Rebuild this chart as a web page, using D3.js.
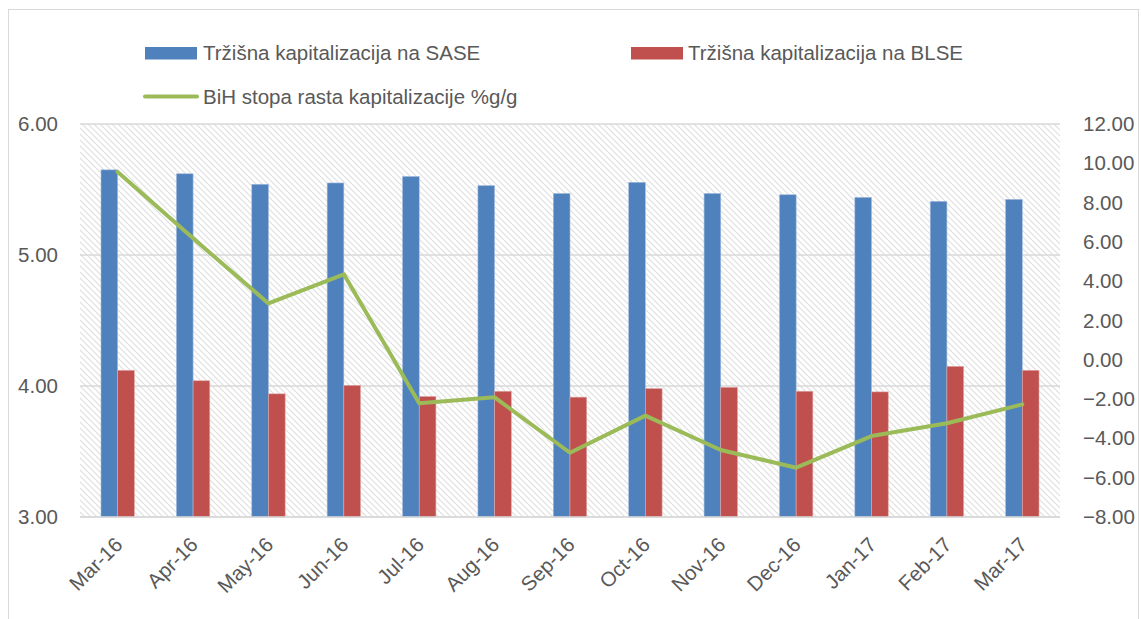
<!DOCTYPE html>
<html>
<head>
<meta charset="utf-8">
<script src="https://cdn.jsdelivr.net/npm/d3@7"></script>
<style>
  html, body { margin: 0; padding: 0; background: #fff; }
  svg { display: block; }
  text { font-family: "Liberation Sans", Arial, sans-serif; }
</style>
</head>
<body>
<svg id="chart" width="1141" height="619"></svg>
<script>
const categories = ["Mar-16","Apr-16","May-16","Jun-16","Jul-16","Aug-16","Sep-16","Oct-16","Nov-16","Dec-16","Jan-17","Feb-17","Mar-17"];
const saseValues = [5.65, 5.62, 5.54, 5.55, 5.60, 5.53, 5.47, 5.555, 5.47, 5.46, 5.44, 5.41, 5.425];
const blseValues = [4.12, 4.04, 3.94, 4.005, 3.92, 3.96, 3.915, 3.98, 3.99, 3.96, 3.955, 4.15, 4.12];
const growthValues = [9.56, 6.18, 2.87, 4.35, -2.21, -1.91, -4.73, -2.84, -4.59, -5.49, -3.88, -3.23, -2.27];
const leftTicks = [3, 4, 5, 6];
const rightTicks = [-8, -6, -4, -2, 0, 2, 4, 6, 8, 10, 12];
const seriesNames = ["Tržišna kapitalizacija na SASE", "Tržišna kapitalizacija na BLSE", "BiH stopa rasta kapitalizacije %g/g"];

const svg = d3.select("#chart");
const plot = { left: 80, right: 1060, top: 124, bottom: 517 };
const textColor = "#595959";
const fontSize = 20.5;

// Outer chart border
svg.append("rect").attr("x", 8.5).attr("y", 9.5).attr("width", 1130).attr("height", 700)
  .attr("fill", "#fff").attr("stroke", "#d9d9d9").attr("stroke-width", 1);

// Hatch pattern
const defs = svg.append("defs");
const pat = defs.append("pattern").attr("id", "hatch").attr("patternUnits", "userSpaceOnUse")
  .attr("width", 6).attr("height", 6);
pat.append("path").attr("d", "M-1,-1 L7,7 M-1,5 L1,7 M5,-1 L7,1")
  .attr("stroke", "#dedede").attr("stroke-width", 1.1).attr("fill", "none");

svg.append("rect").attr("x", plot.left).attr("y", plot.top)
  .attr("width", plot.right - plot.left).attr("height", plot.bottom - plot.top)
  .attr("fill", "url(#hatch)");

// Scales
const x0 = d3.scaleBand().domain(categories).range([plot.left, plot.right])
  .paddingInner(0.557).paddingOuter(0.2785);
const x1 = d3.scaleBand().domain(["sase", "blse"]).range([0, x0.bandwidth()]);
const yL = d3.scaleLinear().domain([3, 6]).range([plot.bottom, plot.top]);
const yR = d3.scaleLinear().domain([-8, 12]).range([plot.bottom, plot.top]);

// Gridlines
svg.append("g").selectAll("line").data(leftTicks).join("line")
  .attr("x1", plot.left).attr("x2", plot.right)
  .attr("y1", d => yL(d)).attr("y2", d => yL(d))
  .attr("stroke", "#d9d9d9").attr("stroke-width", 1.5);

// Bars
const colors = { sase: "#4F81BD", blse: "#C0504D" };
const groups = svg.append("g").selectAll("g").data(categories).join("g")
  .attr("transform", d => `translate(${x0(d)},0)`);
groups.append("rect").attr("x", x1("sase")).attr("width", x1.bandwidth())
  .attr("y", (d, i) => yL(saseValues[i])).attr("height", (d, i) => yL(3) - yL(saseValues[i]))
  .attr("fill", colors.sase).attr("stroke", "#a7bfdf").attr("stroke-width", 0.6);
groups.append("rect").attr("x", x1("blse")).attr("width", x1.bandwidth())
  .attr("y", (d, i) => yL(blseValues[i])).attr("height", (d, i) => yL(3) - yL(blseValues[i]))
  .attr("fill", colors.blse).attr("stroke", "#e0a8a6").attr("stroke-width", 0.6);

// Bottom axis line
svg.append("line").attr("x1", plot.left).attr("x2", plot.right)
  .attr("y1", yL(3)).attr("y2", yL(3)).attr("stroke", "#d9d9d9").attr("stroke-width", 1.5);

// Growth line
const line = d3.line().x((d, i) => x0(categories[i]) + x0.bandwidth() / 2).y(d => yR(d));
svg.append("path").datum(growthValues).attr("d", line)
  .attr("fill", "none").attr("stroke", "#9BBB59").attr("stroke-width", 4)
  .attr("stroke-linejoin", "round").attr("stroke-linecap", "round");

// Left axis labels
const leftAxis = d3.axisLeft(yL).tickValues(leftTicks).tickFormat(d3.format(".2f")).tickSize(0).tickPadding(0);
const gL = svg.append("g").attr("transform", "translate(58,0)").call(leftAxis);
gL.select(".domain").remove();
gL.selectAll("text").attr("font-size", fontSize).attr("fill", textColor)
  .attr("font-family", "Liberation Sans, Arial, sans-serif");

// Right axis labels
const rightAxis = d3.axisRight(yR).tickValues(rightTicks).tickFormat(d3.format(".2f")).tickSize(0).tickPadding(0);
const gR = svg.append("g").attr("transform", "translate(1083,0)").call(rightAxis);
gR.select(".domain").remove();
gR.selectAll("text").attr("font-size", fontSize).attr("fill", textColor)
  .attr("font-family", "Liberation Sans, Arial, sans-serif");

// X labels
svg.append("g").selectAll("text").data(categories).join("text")
  .attr("transform", d => `translate(${x0(d) + x0.bandwidth() / 2 + 6},546) rotate(-45)`)
  .attr("text-anchor", "end").attr("font-size", fontSize).attr("fill", textColor).text(d => d);

// Legend
const lg = svg.append("g");
lg.append("rect").attr("x", 145).attr("y", 47).attr("width", 52).attr("height", 12.5).attr("fill", colors.sase);
lg.append("text").attr("x", 203).attr("y", 59.5).attr("font-size", fontSize).attr("fill", textColor).text(seriesNames[0]);
lg.append("rect").attr("x", 631).attr("y", 47).attr("width", 52).attr("height", 12.5).attr("fill", colors.blse);
lg.append("text").attr("x", 688).attr("y", 59.5).attr("font-size", fontSize).attr("fill", textColor).text(seriesNames[1]);
lg.append("line").attr("x1", 145).attr("x2", 197).attr("y1", 96.5).attr("y2", 96.5)
  .attr("stroke", "#9BBB59").attr("stroke-width", 4).attr("stroke-linecap", "round");
lg.append("text").attr("x", 203).attr("y", 104).attr("font-size", fontSize).attr("fill", textColor).text(seriesNames[2]);
</script>
</body>
</html>
